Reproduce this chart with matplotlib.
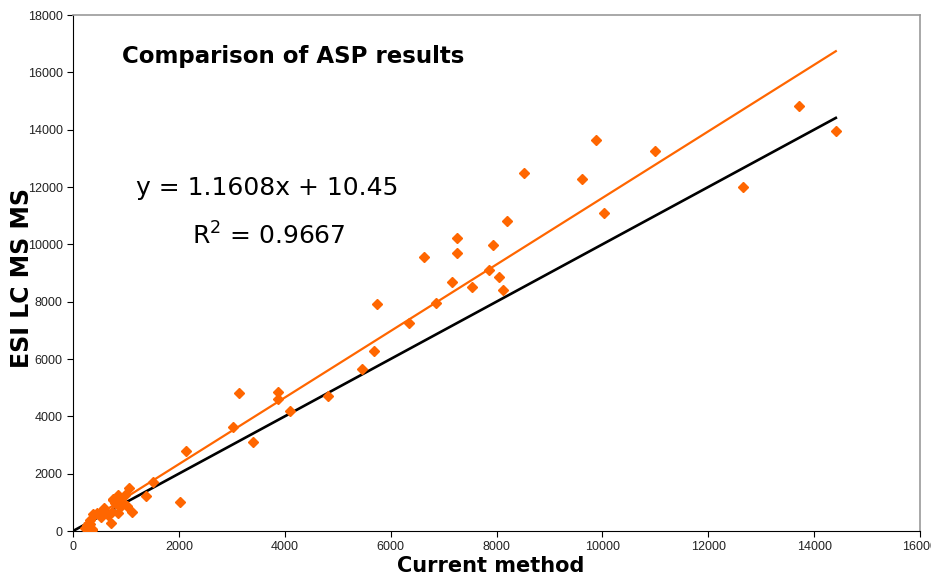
import numpy as np
import matplotlib
matplotlib.use('Agg')
from matplotlib import pyplot as plt

current_method = [14410, 13715, 12655, 10995, 10030, 9880, 9615, 8513, 8204, 8122,
                  8053, 7940, 7858, 7537, 7260, 7247, 7153, 6857, 6636, 6353,
                  5742, 5686, 5459, 4811, 4105, 3872, 3867, 3400, 3130, 3016,
                  2134, 2015, 1517, 1385, 1058, 1120, 1020, 989, 950, 856,
                  844, 888, 793, 761, 750, 731, 718, 668, 591, 540,
                  529, 447, 403, 384, 359, 327, 321, 289, 270, 258,
                  227, 353, 844]
esi_lcmsms = [13950, 14820, 12000, 13250, 11090, 13640, 12280, 12500, 10820, 8420,
              8860, 9990, 9100, 8510, 10230, 9710, 8670, 7940, 9560, 7245,
              7907, 6290, 5650, 4710, 4197, 4860, 4600, 3115, 4825, 3627,
              2780, 1022, 1700, 1232, 1489, 674, 862, 1267, 966, 1256,
              1197, 848, 966, 1081, 1105, 674, 290, 558, 792, 709,
              477, 617, 570, 593, 80, 244, 384, 35, 150, 209,
              94, 35, 640]

slope = 1.1608
intercept = 10.45
r2 = 0.9667

x = np.array(current_method)
y = np.array(esi_lcmsms)

fig = plt.figure(figsize=(9.31, 5.77), dpi=100)
ax = fig.add_axes([73 / 931, 46 / 577, 847 / 931, 516 / 577])

# linea 1:1 y linea de tendencia
ax.plot([0, x.max()], [0, x.max()], c='k', lw=1.9, zorder=2)
xt = np.array([x.min(), x.max()])
ax.plot(xt, slope * xt + intercept, c='#FF6600', lw=1.6, zorder=3)
ax.plot(x, y, 'D', c='#FF6600', ms=5, mec='#FF6600', zorder=4)

ax.set_xlim(0, 16000)
ax.set_ylim(0, 18000)
ax.set_xticks(np.arange(0, 16001, 2000))
ax.set_yticks(np.arange(0, 18001, 2000))
ax.tick_params(labelsize=9, length=4, width=0.8, colors='k', labelcolor='#222222')
for lab in ax.get_xticklabels() + ax.get_yticklabels():
    lab.set_family('Liberation Sans')

ax.spines['top'].set_color('#999999')
ax.spines['right'].set_color('#999999')
ax.spines['top'].set_linewidth(1.2)
ax.spines['right'].set_linewidth(1.2)

ax.text(0.058, 0.92, 'Comparison of ASP results', transform=ax.transAxes,
        fontsize=16.5, fontweight='bold', ha='left', va='center')
ax.text(0.229, 0.664, 'y = 1.1608x + 10.45', transform=ax.transAxes,
        fontsize=18, ha='center', va='center')
ax.text(0.231, 0.571, '$\\mathregular{R^2}$ = 0.9667', transform=ax.transAxes,
        fontsize=18, ha='center', va='center')

fig.text(491 / 931, 11 / 577, 'Current method', fontsize=15, fontweight='bold',
         ha='center', va='center')
fig.text(22 / 931, 299 / 577, 'ESI LC MS MS', fontsize=17, fontweight='bold',
         ha='center', va='center', rotation=90)

plt.savefig('out.png', dpi=100)
